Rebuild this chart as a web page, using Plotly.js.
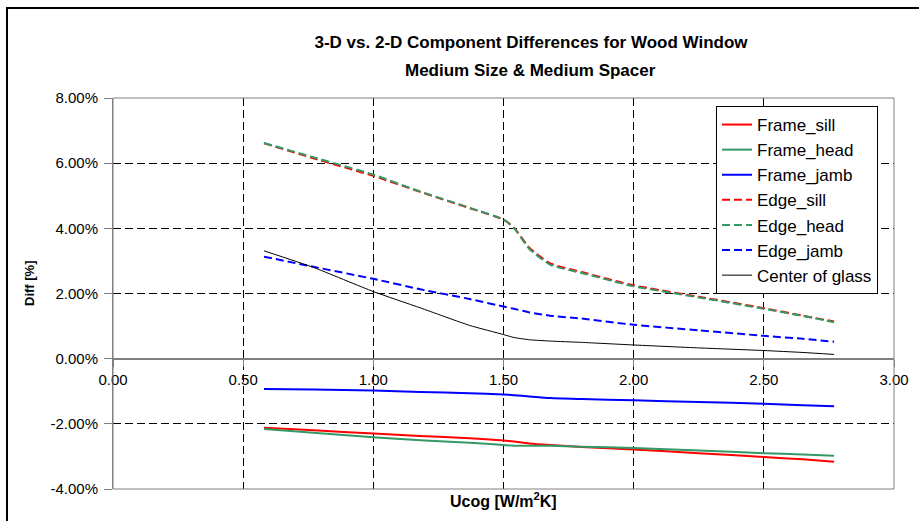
<!DOCTYPE html>
<html>
<head>
<meta charset="utf-8">
<script src="https://cdn.plot.ly/plotly-3.0.1.min.js"></script>
<style>
  html, body { margin: 0; padding: 0; background: #fff; overflow: hidden; }
  #chart { width: 919px; height: 521px; }
  #frame { position: absolute; left: 6px; top: 7px; width: 2000px; height: 2000px;
           border-left: 2px solid #000; border-top: 2px solid #000; pointer-events: none; }
</style>
</head>
<body>
<div id="chart"></div>
<div id="frame"></div>
<script>
// Ucog [W/m2K]
const ucog = [0.58, 0.77, 1.00, 1.18, 1.37, 1.50, 1.54, 1.60, 1.68, 1.80, 2.00, 2.25, 2.50, 2.65, 2.77];
// Diff [%]
const frameSill = [-2.12, -2.20, -2.30, -2.37, -2.44, -2.51, -2.54, -2.60, -2.65, -2.71, -2.79, -2.90, -3.02, -3.09, -3.16];
const frameHead = [-2.16, -2.27, -2.41, -2.50, -2.58, -2.65, -2.67, -2.67, -2.67, -2.70, -2.74, -2.82, -2.90, -2.94, -2.98];
const frameJamb = [-0.93, -0.95, -0.98, -1.02, -1.06, -1.10, -1.12, -1.16, -1.21, -1.24, -1.28, -1.33, -1.38, -1.43, -1.46];
const edgeSill  = [6.61, 6.15, 5.61, 5.12, 4.62, 4.27, 4.03, 3.40, 2.92, 2.66, 2.25, 1.90, 1.55, 1.32, 1.14];
const edgeHead  = [6.62, 6.18, 5.65, 5.13, 4.63, 4.27, 4.01, 3.36, 2.88, 2.63, 2.22, 1.88, 1.53, 1.31, 1.12];
const edgeJamb  = [3.13, 2.82, 2.45, 2.13, 1.83, 1.60, 1.53, 1.42, 1.32, 1.23, 1.04, 0.87, 0.70, 0.61, 0.52];
const centerGlass = [3.31, 2.80, 2.06, 1.56, 1.02, 0.74, 0.65, 0.58, 0.54, 0.50, 0.42, 0.33, 0.25, 0.19, 0.13];

const seriesNames = ['Frame_sill', 'Frame_head', 'Frame_jamb', 'Edge_sill', 'Edge_head', 'Edge_jamb', 'Center of glass'];

const titleLine1 = '3-D vs. 2-D Component Differences for Wood Window';
const titleLine2 = 'Medium Size & Medium Spacer';
const xTitle = 'Ucog [W/m<sup>2</sup>K]';
const yTitle = 'Diff [%]';

const xTickVals = [0, 0.5, 1, 1.5, 2, 2.5, 3];
const xTickText = ['0.00', '0.50', '1.00', '1.50', '2.00', '2.50', '3.00'];
const yTickVals = [-4, -2, 0, 2, 4, 6, 8];
const yTickText = ['-4.00%', '-2.00%', '0.00%', '2.00%', '4.00%', '6.00%', '8.00%'];

const RED = '#FF0000', GREEN = '#339966', BLUE = '#0000FF', BLACK = '#000000';
const DASH = '8px,4px';

function tr(name, y, color, dash, width) {
  return { x: ucog, y: y, name: name, type: 'scatter', mode: 'lines',
           line: { color: color, width: width, dash: dash, shape: 'spline', smoothing: 0.5 } };
}

const data = [
  tr(seriesNames[0], frameSill, RED, 'solid', 2),
  tr(seriesNames[1], frameHead, GREEN, 'solid', 2),
  tr(seriesNames[2], frameJamb, BLUE, 'solid', 2),
  tr(seriesNames[3], edgeSill, RED, DASH, 2),
  tr(seriesNames[4], edgeHead, GREEN, DASH, 2),
  tr(seriesNames[5], edgeJamb, BLUE, DASH, 2),
  tr(seriesNames[6], centerGlass, BLACK, 'solid', 1)
];

const FONT = 'Arial, "Liberation Sans", sans-serif';

const layout = {
  width: 919, height: 521,
  margin: { l: 113, r: 25, t: 98, b: 32 },
  paper_bgcolor: '#fff', plot_bgcolor: '#fff',
  font: { family: FONT, color: '#000', size: 15 },
  showlegend: true,
  title: {
    text: titleLine1,
    font: { family: FONT, size: 17, weight: 'bold', color: '#000' },
    x: 531 / 919, xref: 'container', xanchor: 'center',
    y: 1 - 42 / 521, yref: 'container', yanchor: 'middle'
  },
  xaxis: {
    range: [0, 3], tickvals: xTickVals, ticktext: xTickText,
    anchor: 'free', position: 1 / 3,
    showline: true, linecolor: '#808080', linewidth: 2,
    ticks: 'outside', ticklen: 7, tickcolor: '#808080', tickwidth: 1,
    showgrid: true, gridcolor: '#000', gridwidth: 1, griddash: DASH,
    zeroline: false, tickfont: { size: 15 }
  },
  yaxis: {
    range: [-4, 8], tickvals: yTickVals, ticktext: yTickText,
    showline: true, linecolor: '#808080', linewidth: 1,
    ticks: 'outside', ticklen: 8, tickcolor: '#808080', tickwidth: 1,
    ticklabelstandoff: 3,
    showgrid: true, gridcolor: '#000', gridwidth: 1, griddash: DASH,
    zeroline: false, tickfont: { size: 15 }
  },
  legend: {
    x: (716 - 113) / 781, y: (489 - 106) / 391, xanchor: 'left', yanchor: 'top',
    bgcolor: '#fff', bordercolor: '#000', borderwidth: 1,
    font: { family: FONT, size: 17, color: '#000' },
    tracegroupgap: 0
  },
  shapes: [
    { type: 'rect', xref: 'paper', yref: 'paper', x0: 0, x1: 1, y0: 0, y1: 1,
      line: { color: '#808080', width: 1 }, fillcolor: 'rgba(0,0,0,0)', layer: 'above' }
  ],
  annotations: [
    { text: titleLine2, xref: 'paper', yref: 'paper', x: (530 - 113) / 781, y: (489 - 70) / 391,
      showarrow: false, xanchor: 'center', yanchor: 'middle',
      font: { family: FONT, size: 17, weight: 'bold', color: '#000' } },
    { text: yTitle, xref: 'paper', yref: 'paper', x: (29 - 113) / 781, y: (489 - 283) / 391,
      textangle: -90, showarrow: false, xanchor: 'center', yanchor: 'middle',
      font: { family: FONT, size: 13, weight: 'bold', color: '#000' } },
    { text: xTitle, xref: 'paper', yref: 'paper', x: (503 - 113) / 781, y: (489 - 500) / 391,
      showarrow: false, xanchor: 'center', yanchor: 'middle',
      font: { family: FONT, size: 16, weight: 'bold', color: '#000' } }
  ]
};

Plotly.newPlot('chart', data, layout, { displayModeBar: false, staticPlot: true });
</script>
</body>
</html>
